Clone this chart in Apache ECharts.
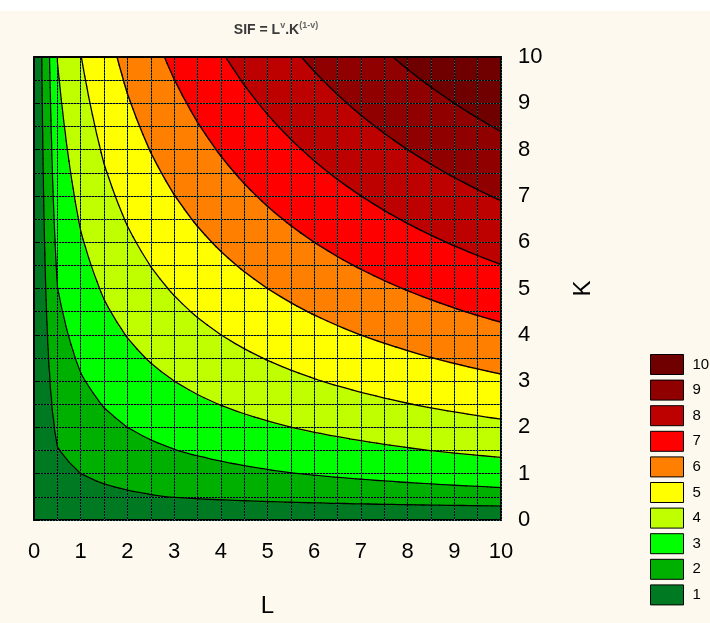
<!DOCTYPE html>
<html>
<head>
<meta charset="utf-8">
<script src="https://cdn.jsdelivr.net/npm/echarts@6/dist/echarts.min.js"></script>
<style>
html,body{margin:0;padding:0;background:#fdf9ee;}
#c{width:710px;height:623px;}
</style>
</head>
<body>
<div id="c"></div>
<script>
// ---- data ----
// grid nodes of the surface (columns = L, rows = K)
const lNodes = [0,0.5,1,1.5,2,2.5,3,3.5,4,4.5,5,5.5,6,6.5,7,7.5,8,8.5,9,9.5,10];
const kNodes = [0,0.5,1,1.5,2,2.5,3,3.5,4,4.5,5,5.5,6,6.5,7,7.5,8,8.5,9,9.5,10];
const vExp = 0.4;
// contour levels (band n covers level n-1 .. n)
const contourLevels = [1,2,3,4,5,6,7,8,9];
const bandLabels = ['1','2','3','4','5','6','7','8','9','10'];
const bandColors = ['#007a22','#00b000','#00ff00','#bfff00','#ffff00','#ff8000','#ff0000','#bd0000','#900000','#700000'];
const axisTickLabels = [0,1,2,3,4,5,6,7,8,9,10];

// surface named in the chart title
function SIF(L, K){ return Math.pow(L, vExp) * Math.pow(K, 1 - vExp); }

const cells = [];
for (let i = 0; i < lNodes.length - 1; i++) {
  for (let j = 0; j < kNodes.length - 1; j++) {
    const x0 = lNodes[i], x1 = lNodes[i+1], y0 = kNodes[j], y1 = kNodes[j+1];
    cells.push([x0, y0, x1, y1, SIF(x0,y0), SIF(x1,y0), SIF(x0,y1), SIF(x1,y1)]);
  }
}

const FONT = "'Liberation Sans Narrow','Liberation Sans',Arial,sans-serif";

function nudge(f, c){ const d = f - c; return d === 0 ? 1e-9 : d; }

function triangles(api){
  const x0=api.value(0), y0=api.value(1), x1=api.value(2), y1=api.value(3);
  const f00=api.value(4), f10=api.value(5), f01=api.value(6), f11=api.value(7);
  const c = [(x0+x1)/2, (y0+y1)/2, (f00+f10+f01+f11)/4];
  const q = [[x0,y0,f00],[x1,y0,f10],[x1,y1,f11],[x0,y1,f01]];
  const t = [];
  for (let k = 0; k < 4; k++) t.push([q[k], q[(k+1)%4], c]);
  return t;
}

function clipPoly(poly, level, keepAbove){
  const out = [];
  const n = poly.length;
  for (let i = 0; i < n; i++) {
    const a = poly[i], b = poly[(i+1)%n];
    const da = keepAbove ? nudge(a[2], level) : -nudge(a[2], level);
    const db = keepAbove ? nudge(b[2], level) : -nudge(b[2], level);
    if (da >= 0) out.push(a);
    if ((da >= 0) !== (db >= 0)) {
      const t = da / (da - db);
      out.push([a[0]+t*(b[0]-a[0]), a[1]+t*(b[1]-a[1]), a[2]+t*(b[2]-a[2])]);
    }
  }
  return out;
}

function bandSeries(n){
  const lo = n === 0 ? null : contourLevels[n-1];
  const hi = n === contourLevels.length ? null : contourLevels[n];
  const color = bandColors[n];
  return {
    type: 'custom',
    name: bandLabels[n],
    coordinateSystem: 'cartesian2d',
    xAxisIndex: 0, yAxisIndex: 0,
    data: cells,
    encode: {x: [0,2], y: [1,3]},
    itemStyle: {color: color},
    z: 2,
    clip: true,
    silent: true,
    renderItem: function(params, api){
      const children = [];
      triangles(api).forEach(function(tri){
        let p = tri;
        if (lo !== null) p = clipPoly(p, lo, true);
        if (p.length >= 3 && hi !== null) p = clipPoly(p, hi, false);
        if (p.length >= 3) {
          children.push({
            type: 'polygon',
            shape: {points: p.map(function(v){ return api.coord([v[0], v[1]]); })},
            style: {fill: color, stroke: color, lineWidth: 1.6, lineJoin: 'round'}
          });
        }
      });
      return {type: 'group', children: children};
    }
  };
}

const series = [];
for (let n = 0; n < bandLabels.length; n++) series.push(bandSeries(n));

series.push({
  type: 'custom',
  name: 'contours',
  coordinateSystem: 'cartesian2d',
  xAxisIndex: 0, yAxisIndex: 0,
  data: cells,
  encode: {x: [0,2], y: [1,3]},
  z: 6,
  clip: true,
  silent: true,
  renderItem: function(params, api){
    const children = [];
    triangles(api).forEach(function(tri){
      contourLevels.forEach(function(c){
        const pts = [];
        for (let e = 0; e < 3; e++) {
          const a = tri[e], b = tri[(e+1)%3];
          const da = nudge(a[2], c), db = nudge(b[2], c);
          if ((da > 0) !== (db > 0)) {
            const t = da / (da - db);
            pts.push(api.coord([a[0]+t*(b[0]-a[0]), a[1]+t*(b[1]-a[1])]));
          }
        }
        if (pts.length === 2) {
          children.push({
            type: 'line',
            shape: {x1: pts[0][0], y1: pts[0][1], x2: pts[1][0], y2: pts[1][1]},
            style: {stroke: '#000', lineWidth: 1.3, lineCap: 'round'}
          });
        }
      });
    });
    return {type: 'group', children: children};
  }
});

const gridBlack = {color: '#000', width: 1};
const gridTeal = {color: '#1d7676', width: 1, type: [1, 2]};

function valueAxis(extra){
  return Object.assign({
    type: 'value', min: axisTickLabels[0], max: axisTickLabels[axisTickLabels.length-1], interval: 1,
    minorTick: {show: false, splitNumber: 2}
  }, extra);
}

const chart = echarts.init(document.getElementById('c'), null, {renderer: 'canvas'});
chart.setOption({
  backgroundColor: '#fdf9ee',
  animation: false,
  title: {
    text: '{a|SIF = L}{s|v}{a|.K}{s|(1-v)}',
    left: 271, top: 16, textAlign: 'center',
    textStyle: {
      rich: {
        a: {fontSize: 14, fontWeight: 'bold', color: '#3a3a3a', fontFamily: "'Liberation Sans',Arial,sans-serif", lineHeight: 18},
        s: {fontSize: 9, color: '#666', fontFamily: "'Liberation Sans',Arial,sans-serif", lineHeight: 12, verticalAlign: 'top'}
      }
    }
  },
  graphic: [{type: 'rect', shape: {x: 0, y: 0, width: 710, height: 11}, style: {fill: '#ffffff'}, z: -1}],
  grid: {left: 34, top: 57, width: 467, height: 470, containLabel: false},
  legend: {
    orient: 'vertical', left: 650, top: 354, padding: 0,
    itemWidth: 33, itemHeight: 20, itemGap: 4.6,
    icon: 'rect', selectedMode: false,
    data: bandLabels.slice().reverse(),
    itemStyle: {borderColor: '#000', borderWidth: 1},
    textStyle: {fontSize: 15, fontFamily: FONT, color: '#000', padding: [0, 0, 0, 4]}
  },
  xAxis: [
    valueAxis({
      position: 'bottom', z: 3,
      axisLine: {show: true, onZero: false, lineStyle: {color: '#000', width: 2}},
      axisTick: {show: true, inside: true, length: 7, lineStyle: {color: '#000', width: 1}},
      axisLabel: {fontSize: 22, fontFamily: FONT, color: '#000', margin: 21},
      splitLine: {show: true, lineStyle: gridBlack},
      minorSplitLine: {show: true, lineStyle: gridBlack},
      name: 'L', nameLocation: 'middle', nameGap: 74,
      nameTextStyle: {fontSize: 24, fontFamily: FONT, color: '#000'}
    }),
    valueAxis({
      position: 'top', z: 4,
      axisLine: {show: true, onZero: false, lineStyle: {color: '#000', width: 2}},
      axisTick: {show: false}, axisLabel: {show: false},
      splitLine: {show: true, lineStyle: gridTeal},
      minorSplitLine: {show: true, lineStyle: gridTeal}
    })
  ],
  yAxis: [
    valueAxis({
      position: 'right', z: 3,
      axisLine: {show: true, onZero: false, lineStyle: {color: '#000', width: 2}},
      axisTick: {show: false},
      axisLabel: {fontSize: 22, fontFamily: FONT, color: '#000', margin: 17},
      splitLine: {show: true, lineStyle: gridBlack},
      minorSplitLine: {show: true, lineStyle: gridBlack},
      name: 'K', nameLocation: 'middle', nameGap: 70, nameRotate: 90,
      nameTextStyle: {fontSize: 24, fontFamily: FONT, color: '#000'}
    }),
    valueAxis({
      position: 'left', z: 4,
      axisLine: {show: true, onZero: false, lineStyle: {color: '#000', width: 2}},
      axisTick: {show: true, inside: true, length: 5, lineStyle: {color: '#000', width: 1}},
      axisLabel: {show: false},
      splitLine: {show: true, lineStyle: gridTeal},
      minorSplitLine: {show: true, lineStyle: gridTeal}
    })
  ],
  series: series
});
</script>
</body>
</html>
